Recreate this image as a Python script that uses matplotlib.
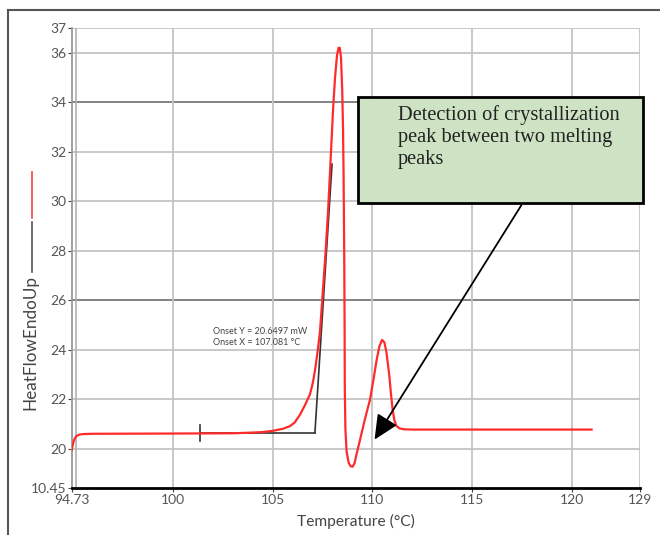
import numpy as np
import matplotlib.pyplot as plt
from matplotlib.patches import Rectangle
from matplotlib.lines import Line2D

plt.rcParams['font.family'] = ['Lato', 'DejaVu Sans']

# DSC curve
temp = [94.9, 94.95, 95.0, 95.08, 95.18, 95.3, 95.5, 96.0, 100.0, 103.0, 104.0, 104.5,
        105.0, 105.5, 105.86, 106.1, 106.36, 106.6, 106.86, 107.0, 107.11, 107.24,
        107.36, 107.52, 107.65, 107.77, 107.9, 108.02, 108.12, 108.22, 108.3, 108.36,
        108.42, 108.48, 108.52, 108.55, 108.58, 108.6, 108.61, 108.64, 108.7, 108.8,
        108.9, 109.0, 109.1, 109.22, 109.37, 109.62, 109.87, 110.05, 110.21, 110.35,
        110.48, 110.6, 110.7, 110.84, 110.93, 111.01, 111.1, 111.2, 111.35, 111.6,
        112.0, 121.0]
heat = [19.95, 20.15, 20.32, 20.46, 20.54, 20.58, 20.6, 20.61, 20.62, 20.63, 20.66, 20.68,
        20.73, 20.81, 20.92, 21.07, 21.38, 21.75, 22.2, 22.65, 23.15, 23.9,
        24.7, 26.5, 28.0, 29.6, 31.7, 33.7, 35.0, 35.9, 36.2, 36.2,
        35.8, 34.5, 33.0, 31.0, 28.0, 25.0, 22.5, 20.8, 19.9, 19.45,
        19.3, 19.28, 19.42, 19.85, 20.35, 21.2, 21.97, 22.8, 23.6, 24.15,
        24.4, 24.3, 23.9, 23.0, 22.2, 21.6, 21.15, 20.93, 20.83, 20.79,
        20.78, 20.78]

# onset construction
base_x = [101.34, 107.11]
base_y = [20.65, 20.65]
tang_x = [107.11, 107.97]
tang_y = [20.65, 31.5]

xticks = [94.9, 100, 105, 110, 115, 120, 123.43]
xlabels = ['94.73', '100', '105', '110', '115', '120', '129']
yticks = [18.42, 20, 22, 24, 26, 28, 30, 32, 34, 36, 37]
ylabels = ['10.45', '20', '22', '24', '26', '28', '30', '32', '34', '36', '37']

fig = plt.figure(figsize=(6.6, 5.35), dpi=100)
ax = fig.add_axes([71.7/660, 1-488/535, (640-71.7)/660, (488-28)/535])

ax.set_xlim(94.9, 123.43)
ax.set_ylim(18.42, 37)
ax.set_xticks(xticks)
ax.set_xticklabels(xlabels)
ax.set_yticks(yticks)
ax.set_yticklabels(ylabels)
ax.tick_params(labelsize=10, labelcolor='#555555', color='#444444', length=3, pad=1)

# сетка
for y in yticks[1:]:
    c = '#7a7a7a' if y in (26, 34) else '#c4c4c4'
    ax.axhline(y, color=c, lw=1.3, zorder=0)
for x in xticks[1:]:
    ax.axvline(x, color='#c4c4c4', lw=1.3, zorder=0)
ax.axvline(95.1, color='#b0b0b0', lw=1.2, zorder=0)

for s in ['top', 'right']:
    ax.spines[s].set_visible(False)
ax.spines['bottom'].set_color('black')
ax.spines['bottom'].set_linewidth(2)
ax.spines['left'].set_color('#999999')
ax.spines['left'].set_linewidth(1.3)

ax.plot(base_x, base_y, color='#333333', lw=1.2, zorder=2)
ax.plot(tang_x, tang_y, color='#333333', lw=1.2, zorder=2)
ax.plot([101.34, 101.34], [20.3, 20.95], color='#333333', lw=1.2, zorder=2)
ax.plot(temp, heat, color='#ff2b2b', lw=1.6, zorder=3, solid_joinstyle='round')

ax.text(102.0, 24.75, 'Onset Y = 20.6497 mW', fontsize=6.5, color='#444444', va='center')
ax.text(102.0, 24.28, 'Onset X = 107.081 °C', fontsize=6.5, color='#444444', va='center')

# текстовая рамка
box = Rectangle((0.5038, 0.6196), 0.5015, 0.2304, transform=ax.transAxes,
                facecolor='#cde3c3', edgecolor='black', lw=2, clip_on=False, zorder=5)
ax.add_patch(box)
ax.text(0.5742, 0.833, 'Detection of crystallization\npeak between two melting\npeaks',
        transform=ax.transAxes, family='Liberation Serif', fontsize=14.7,
        va='top', ha='left', linespacing=1.22, color='#222222', zorder=6)

ax.annotate('', xy=(110.03, 20.28), xytext=(117.55, 29.94),
            arrowprops=dict(arrowstyle='-|>,head_length=1.5,head_width=0.7',
                            color='black', lw=1.3), zorder=4)

ax.set_xlabel('Temperature (°C)', fontsize=11.2, color='#444444', labelpad=6)

# подпись оси Y с линиями
fig.text(30/660, 1-343/535, 'HeatFlowEndoUp', rotation=90, fontsize=12.3,
         color='#444444', ha='center', va='center')
fig.add_artist(Line2D([32/660, 32/660], [1-172/535, 1-218/535], color='#ff4040', lw=1.2))
fig.add_artist(Line2D([32/660, 32/660], [1-222/535, 1-272/535], color='#555555', lw=1.2))

# внешняя рамка
fig.add_artist(Line2D([8/660, 1], [1-10/535, 1-10/535], color='#555555', lw=1.5))
fig.add_artist(Line2D([8/660, 8/660], [1-10/535, 0], color='#555555', lw=1.5))

fig.savefig('out.png')
